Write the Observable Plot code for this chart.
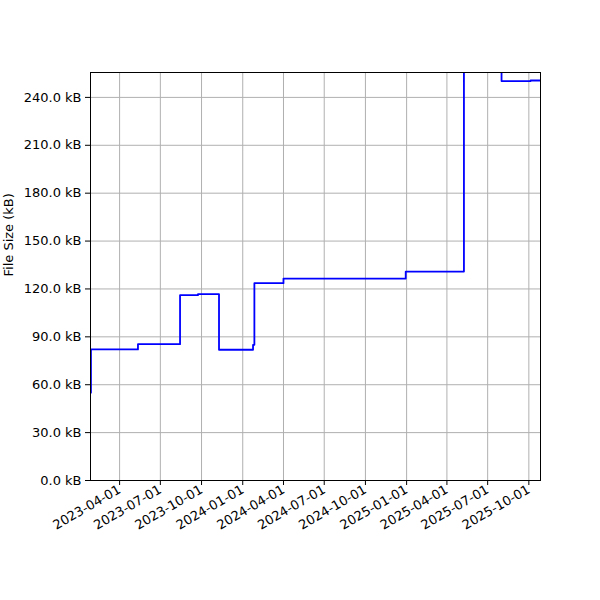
<!DOCTYPE html>
<html>
<head>
<meta charset="utf-8">
<script src="https://cdn.jsdelivr.net/npm/d3@7"></script>
<script src="https://cdn.jsdelivr.net/npm/@observablehq/plot@0.6"></script>
<style>
  html, body { margin: 0; padding: 0; background: #fff; }
  #chart svg { display: block; }
</style>
</head>
<body>
<div id="chart"></div>
<script>
const dates = ["2023-01-26","2023-01-27","2023-05-12","2023-08-14","2023-09-23","2023-11-09","2024-01-24","2024-01-27","2024-04-01","2024-12-30","2025-05-09","2025-08-01","2025-10-05","2025-10-27"];
const sizesKB = [55, 82.1, 85.4, 116.1, 116.7, 81.9, 85, 123.6, 126.5, 130.9, 300, 250.2, 250.6, 250.6];
const xTickLabels = ["2023-04-01","2023-07-01","2023-10-01","2024-01-01","2024-04-01","2024-07-01","2024-10-01","2025-01-01","2025-04-01","2025-07-01","2025-10-01"];
const yTicks = [0, 30, 60, 90, 120, 150, 180, 210, 240];
const xDomain = ["2023-01-26", "2025-10-27"];
const yDomain = [0, 255.6];

const data = dates.map((d, i) => ({date: new Date(d + "T00:00:00Z"), kb: sizesKB[i]}));
const xTicks = xTickLabels.map(d => new Date(d + "T00:00:00Z"));
const fmtDate = d3.utcFormat("%Y-%m-%d");

const chart = Plot.plot({
  width: 600,
  height: 600,
  marginLeft: 90,
  marginRight: 60,
  marginTop: 72,
  marginBottom: 120,
  style: {fontFamily: "DejaVu Sans", fontSize: "13px", color: "#000", background: "#fff"},
  x: {type: "utc", domain: xDomain.map(d => new Date(d + "T00:00:00Z"))},
  y: {domain: yDomain},
  marks: [
    Plot.gridX(xTicks, {stroke: "#b0b0b0", strokeOpacity: 1, strokeWidth: 1}),
    Plot.gridY(yTicks, {stroke: "#b0b0b0", strokeOpacity: 1, strokeWidth: 1}),
    Plot.line(data, {x: "date", y: "kb", curve: "step-after", stroke: "#0000ff", strokeWidth: 1.8, clip: true}),
    Plot.frame({stroke: "#000", strokeWidth: 1}),
    Plot.axisY(yTicks, {tickSize: 5, tickPadding: 4, tickFormat: d => d.toFixed(1) + " kB", label: null, stroke: "#000", fill: "#000"}),
    Plot.axisX(xTicks, {tickSize: 5, tickPadding: 3, tickRotate: -30, tickFormat: fmtDate, label: null, stroke: "#000", fill: "#000"}),
    Plot.text(["File Size (kB)"], {frameAnchor: "left", dx: -82, rotate: -90, fill: "#000", fontSize: 13})
  ]
});
document.getElementById("chart").appendChild(chart);
</script>
</body>
</html>
